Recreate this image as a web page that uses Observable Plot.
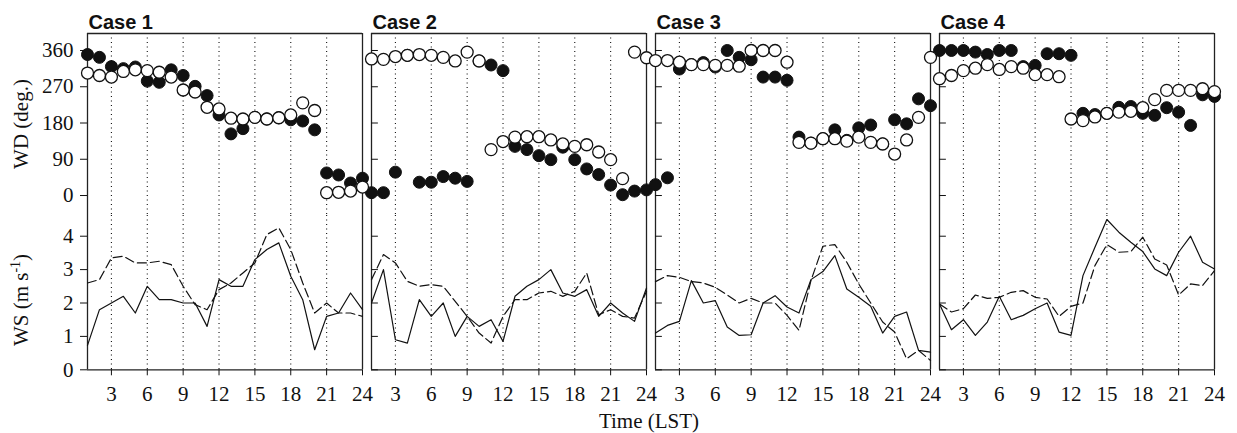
<!DOCTYPE html>
<html><head><meta charset="utf-8">
<script src="https://cdn.jsdelivr.net/npm/d3@7"></script>
<script src="https://cdn.jsdelivr.net/npm/@observablehq/plot@0.6"></script>
<style>
body{margin:0;background:#fff;}
#chart{position:relative;width:1237px;height:433px;overflow:hidden;}
#chart svg{display:block;}
.lab{position:absolute;font-family:"Liberation Serif",serif;font-size:21px;color:#111;white-space:nowrap;}
.rot{transform:translate(-50%,-50%) rotate(-90deg);}
.lab sup{font-size:14px;}
</style></head><body><div id="chart"></div>
<script>
const cases = ["Case 1", "Case 2", "Case 3", "Case 4"];
const hours = [1,2,3,4,5,6,7,8,9,10,11,12,13,14,15,16,17,18,19,20,21,22,23,24];
const xTicks = [3,6,9,12,15,18,21,24];
const gridHours = [3,6,9,12,15,18,21];
const wdTicks = [0,90,180,270,360];
const wsTicks = [0,1,2,3,4];

// WD (deg.) — filled circles
const case1Filled = [350,343,320,315,319,284,281,312,298,271,248,200,153,166,194,190,193,188,185,163,56,51,31,43];
const case2Filled = [7,7,58,348,33,33,47,43,35,334,324,310,122,114,99,89,120,89,66,52,26,2,11,14];
const case3Filled = [27,44,314,325,330,319,360,343,337,294,294,286,145,130,141,163,137,168,175,128,188,178,240,223];
const case4Filled = [360,360,360,356,350,360,360,320,323,352,352,348,204,201,204,219,221,204,199,218,207,174,250,246];
// WD (deg.) — open circles
const case1Open = [304,298,294,308,312,310,306,294,262,257,219,215,192,190,194,190,193,200,230,211,7,8,11,21];
const case2Open = [339,338,345,348,350,348,343,334,356,334,114,134,145,146,146,138,128,122,126,108,89,42,356,342];
const case3Open = [335,335,331,325,325,323,323,321,360,360,360,331,132,130,141,141,135,145,132,128,103,138,194,343];
const case4Open = [290,298,310,316,325,313,320,316,300,300,295,190,186,195,204,207,209,218,238,261,261,261,265,258];
// WS (m s-1) — solid lines
const case1Solid = [0.73,1.8,2.0,2.2,1.7,2.5,2.1,2.1,2.0,2.0,1.3,2.7,2.5,2.5,3.3,3.6,3.8,2.8,2.1,0.6,1.6,1.7,2.3,1.8];
const case2Solid = [2.0,3.0,0.9,0.8,2.1,1.6,2.0,1.0,1.6,1.3,1.5,0.85,2.2,2.5,2.7,3.0,2.3,2.2,2.4,1.6,2.0,1.7,1.45,2.45];
const case3Solid = [1.1,1.33,1.45,2.67,2.0,2.07,1.28,1.03,1.05,2.0,2.22,1.88,1.7,2.7,2.94,3.42,2.42,2.17,1.9,1.1,1.6,1.73,0.58,0.53];
const case4Solid = [1.97,1.2,1.5,1.03,1.43,2.2,1.5,1.63,1.83,2.0,1.13,1.03,2.82,3.67,4.5,4.12,3.82,3.54,3.02,2.82,3.52,4.0,3.22,3.02];
// WS (m s-1) — dashed lines
const case1Dashed = [2.6,2.7,3.35,3.4,3.2,3.2,3.25,3.15,2.5,1.95,1.8,2.4,2.6,2.9,3.2,4.05,4.25,3.6,2.6,1.7,2.0,1.7,1.7,1.6];
const case2Dashed = [2.7,3.45,3.2,2.65,2.5,2.55,2.5,2.05,1.6,1.1,0.8,1.6,2.1,2.1,2.3,2.35,2.2,2.35,2.9,1.65,1.8,1.6,1.55,2.35];
const case3Dashed = [2.64,2.82,2.77,2.64,2.6,2.47,2.24,2.0,2.14,2.0,2.0,1.63,1.18,2.67,3.7,3.75,3.22,2.57,2.0,1.43,1.13,0.33,0.58,0.28];
const case4Dashed = [1.97,1.73,1.83,2.24,2.14,2.17,2.32,2.37,2.17,2.12,1.6,1.9,2.0,3.12,3.75,3.52,3.54,3.97,3.32,3.14,2.24,2.57,2.52,2.97];

function rows(series) {
  return cases.flatMap((c, k) => hours.map((h, i) => ({case: c, h, v: series[k][i]})));
}
const filledRows = rows([case1Filled, case2Filled, case3Filled, case4Filled]);
const openRows = rows([case1Open, case2Open, case3Open, case4Open]);
const solidRows = rows([case1Solid, case2Solid, case3Solid, case4Solid]);
const dashedRows = rows([case1Dashed, case2Dashed, case3Dashed, case4Dashed]);
const innerTicks = (ticks) => cases.slice(1).flatMap(c => ticks.map(v => ({case: c, v})));

const W = 1237, ML = 86.5, MR = 23, PAD = 0.0317;
const step = (W - ML - MR) / (cases.length - PAD);
const bw = step * (1 - PAD);
const wdDomain = [-49.6, 402.2];
const wsDomain = [0, 4.62];
const fxOpt = {domain: cases, paddingInner: PAD, paddingOuter: 0, axis: null, label: null};
const styleOpt = {background: "transparent", overflow: "visible", fontFamily: "'Liberation Serif', serif", fontSize: "21px", color: "#111"};
const frameStyle = {stroke: "#222", strokeWidth: 1.3};
const gridStyle = {stroke: "#111", strokeWidth: 1.1, strokeDasharray: "1,3.5"};
const intFmt = d3.format("d");

const topPlot = Plot.plot({
  width: W, height: 215, marginLeft: ML, marginRight: MR, marginTop: 33, marginBottom: 0,
  style: styleOpt,
  fx: fxOpt,
  x: {domain: [1, 24], axis: null},
  y: {domain: wdDomain},
  marks: [
    Plot.ruleX(gridHours, gridStyle),
    Plot.ruleX([1, 24], frameStyle),
    Plot.ruleY([wdDomain[1]], frameStyle),
    Plot.axisY({ticks: wdTicks, tickFormat: intFmt, tickSize: 7, tickPadding: 7, fontSize: 21, label: null}),
    Plot.tickY(innerTicks(wdTicks), {fx: "case", y: "v", insetRight: bw - 7, stroke: "#111"}),
    Plot.dot(filledRows, {fx: "case", x: "h", y: "v", r: 6, fill: "#111", stroke: "#111", strokeWidth: 1}),
    Plot.dot(openRows, {fx: "case", x: "h", y: "v", r: 6, fill: "white", stroke: "#111", strokeWidth: 1.3}),
    Plot.text(cases, {fx: d => d, text: d => d, frameAnchor: "top-left", lineAnchor: "bottom", dx: 1, dy: -5,
      fontFamily: "'Liberation Sans', Arial, sans-serif", fontWeight: "bold", fontSize: 20, fill: "#111"})
  ]
});

const bottomPlot = Plot.plot({
  width: W, height: 218, marginLeft: ML, marginRight: MR, marginTop: 0, marginBottom: 63.7,
  style: styleOpt,
  fx: fxOpt,
  x: {domain: [1, 24]},
  y: {domain: wsDomain},
  marks: [
    Plot.ruleX(gridHours, gridStyle),
    Plot.ruleX([1, 24], frameStyle),
    Plot.ruleY([0], frameStyle),
    Plot.axisY({ticks: wsTicks, tickFormat: intFmt, tickSize: 7, tickPadding: 7, fontSize: 21, label: null}),
    Plot.tickY(innerTicks(wsTicks), {fx: "case", y: "v", insetRight: bw - 7, stroke: "#111"}),
    Plot.axisX({ticks: xTicks, tickFormat: intFmt, tickSize: 6, tickPadding: 10, fontSize: 21, label: null}),
    Plot.line(solidRows, {fx: "case", x: "h", y: "v", stroke: "#111", strokeWidth: 1.2}),
    Plot.line(dashedRows, {fx: "case", x: "h", y: "v", stroke: "#111", strokeWidth: 1.2, strokeDasharray: "9,4"})
  ]
});

const chart = document.getElementById("chart");
chart.appendChild(topPlot);
chart.appendChild(bottomPlot);

function addLabel(html, x, y, rotate) {
  const d = document.createElement("div");
  d.className = "lab" + (rotate ? " rot" : "");
  d.innerHTML = html;
  d.style.left = x + "px";
  d.style.top = y + "px";
  if (!rotate) d.style.transform = "translate(-50%,-50%)";
  chart.appendChild(d);
}
addLabel("WD (deg.)", 21, 124, true);
addLabel("WS (m s<sup>-1</sup>)", 21, 300, true);
addLabel("Time (LST)", 649, 421, false);
</script></body></html>
